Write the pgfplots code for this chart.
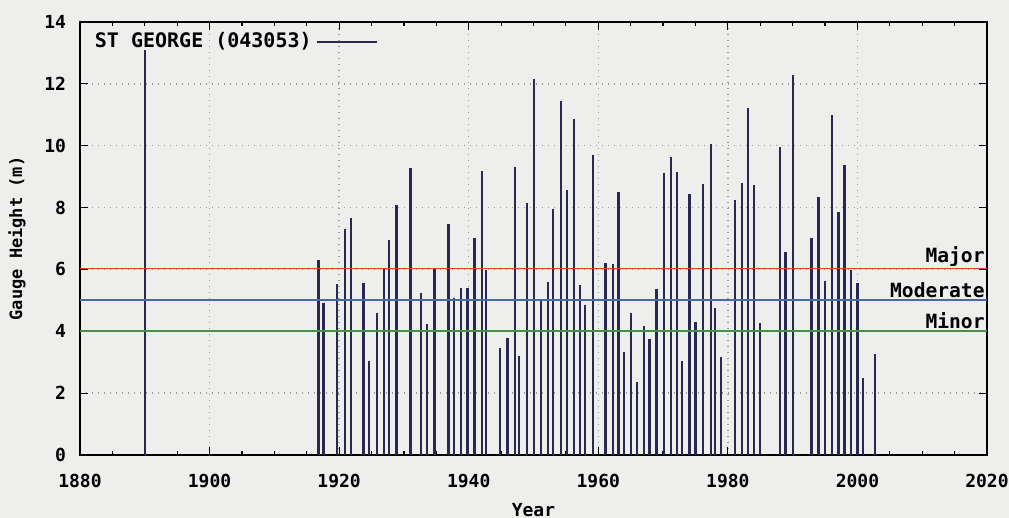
\documentclass[border=0pt]{standalone}
\usepackage{pgfplots}
\pgfplotsset{compat=1.18}
\usepackage{fontspec}
\setmonofont{DejaVu Sans Mono}
\definecolor{barc}{RGB}{40,40,80}
\definecolor{majorred}{RGB}{232,58,52}
\definecolor{modblue}{RGB}{70,105,175}
\definecolor{mingreen}{RGB}{70,145,70}
\definecolor{bgc}{RGB}{238,238,236}
\begin{document}
\begin{tikzpicture}[x=1pt,y=1pt]
\fill[bgc] (0,0) rectangle (504.5,259);
\useasboundingbox (0,0) rectangle (504.5,259);
\begin{axis}[
  at={(40pt,31.5pt)}, anchor=south west,
  scale only axis, width=453.5pt, height=216.5pt,
  xmin=1880, xmax=2020, ymin=0, ymax=14,
  xtick={1880,1900,...,2020}, ytick={0,2,...,14},
  minor x tick num=3,
  grid=major,
  major grid style={gray!80, line width=0.7pt, dash pattern=on 0.7pt off 2.3pt},
  tick align=inside, major tick length=4pt, minor tick length=2pt,
  tick style={black, line width=0.6pt},
  axis line style={line width=0.9pt},
  font=\ttfamily\bfseries\fontsize{9}{10}\selectfont,
  /pgf/number format/assume math mode=true,
  /pgf/number format/1000 sep={},
  xlabel=Year, ylabel={Gauge Height (m)},
  xlabel style={at={(axis description cs:0.5,0)}, anchor=center, yshift=-27.5pt},
  ylabel style={at={(axis description cs:0,0.5)}, anchor=center, yshift=31.5pt,
    font=\ttfamily\bfseries\fontsize{8.5}{10}\selectfont},
  xticklabel style={yshift=-6pt},
  yticklabel style={xshift=-3.5pt},
  legend style={at={(0.005,0.995)}, anchor=north west, draw=none, fill=none,
    font=\ttfamily\bfseries\fontsize{10}{11}\selectfont},
  legend plot pos=right,
]
\addplot[ycomb, color=barc, line width=1.15pt, mark=none,
  legend image code/.code={\draw[color=barc, line width=1pt] (0pt,0pt) -- (30pt,0pt);}]
  coordinates {
(1890.0,13.1) (1916.8,6.30) (1917.6,4.90) (1919.7,5.52) (1920.9,7.31) (1921.85,7.65)
(1923.75,5.57) (1924.6,3.04) (1925.8,4.58) (1926.9,6.04) (1927.7,6.95) (1928.85,8.08)
(1931.0,9.29) (1932.6,5.23) (1933.6,4.22) (1934.7,6.00) (1936.9,7.48) (1937.7,5.07)
(1938.8,5.41) (1939.8,5.41) (1940.9,7.00) (1942.0,9.18) (1942.7,5.98) (1944.8,3.45)
(1946.0,3.79) (1947.1,9.32) (1947.8,3.20) (1949.0,8.14) (1950.1,12.15) (1951.15,4.98)
(1952.2,5.60) (1953.05,7.94) (1954.2,11.45) (1955.2,8.57) (1956.2,10.85) (1957.2,5.50)
(1958.0,4.85) (1959.2,9.70) (1961.1,6.22) (1962.3,6.18) (1963.1,8.51) (1964.0,3.34)
(1965.0,4.58) (1966.0,2.37) (1967.05,4.17) (1967.9,3.74) (1969.0,5.36) (1970.1,9.13)
(1971.2,9.65) (1972.2,9.16) (1972.9,3.05) (1974.1,8.44) (1975.0,4.31) (1976.15,8.76)
(1977.35,10.04) (1978.0,4.74) (1978.9,3.18) (1981.1,8.24) (1982.2,8.78) (1983.1,11.23)
(1984.0,8.73) (1985.0,4.28) (1988.0,9.97) (1988.9,6.57) (1990.05,12.29) (1992.9,7.01)
(1994.0,8.35) (1995.0,5.63) (1996.1,10.99) (1997.1,7.87) (1998.0,9.38) (1999.0,5.98)
(2000.0,5.55) (2000.9,2.48) (2002.75,3.25)
  };
\addlegendentry{ST GEORGE (043053)}
\addplot[color=majorred, line width=0.9pt, forget plot] coordinates {(1880,6.03) (2020,6.03)};
\addplot[color=modblue, line width=0.9pt, forget plot] coordinates {(1880,5) (2020,5)};
\addplot[color=mingreen, line width=0.9pt, forget plot] coordinates {(1880,4) (2020,4)};
\node[anchor=south east, inner sep=1pt, font=\ttfamily\bfseries\fontsize{9.8}{10}\selectfont] at (axis cs:2020,6) {Major};
\node[anchor=south east, inner sep=1pt, font=\ttfamily\bfseries\fontsize{9.8}{10}\selectfont] at (axis cs:2020,5) {Moderate};
\node[anchor=south east, inner sep=1pt, font=\ttfamily\bfseries\fontsize{9.8}{10}\selectfont] at (axis cs:2020,4) {Minor};
\end{axis}
\end{tikzpicture}
\end{document}
